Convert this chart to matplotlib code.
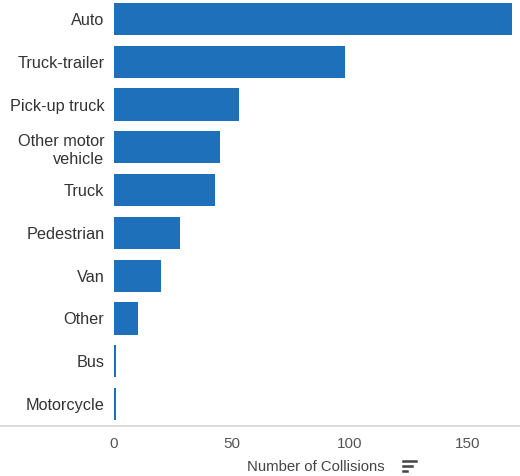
import matplotlib.pyplot as plt
from matplotlib.lines import Line2D

# collisions by type of vehicle/object struck
categories = ['Auto', 'Truck-trailer', 'Pick-up truck', 'Other motor\nvehicle', 'Truck',
              'Pedestrian', 'Van', 'Other', 'Bus', 'Motorcycle']
collisions = [169, 98, 53, 45, 43, 28, 20, 10, 1, 1]
xticks = [0, 50, 100, 150]

plt.rcParams['font.family'] = ['Liberation Sans', 'DejaVu Sans']

fig = plt.figure(figsize=(5.2, 4.76), dpi=100)
ax = fig.add_axes([114/520, 1 - 425.5/476, (517 - 114)/520, 428/476])

ax.barh(range(len(categories)), collisions, height=0.75, color='#1f70bb')
ax.set_ylim(len(categories) - 0.5, -0.5)
ax.set_xlim(0, 171)

ax.set_yticks(range(len(categories)))
ax.set_yticklabels(categories, fontsize=11.7, color='#333333', linespacing=1.3)
ax.set_xticks(xticks)
ax.set_xticklabels([str(t) for t in xticks], fontsize=11, color='#555555')
ax.tick_params(axis='y', length=0, pad=7)
ax.tick_params(axis='x', length=0, pad=8)
for s in ax.spines.values():
    s.set_visible(False)

ax.set_xlabel('Number of Collisions', fontsize=10.7, color='#444444', labelpad=7)

# baseline across the whole width
fig.add_artist(Line2D([0, 1], [1 - 425.5/476] * 2, color='#d4d4d4', lw=1.2))

# small sort icon next to the axis title
for i, w in enumerate([13, 9, 4]):
    y = 1 - (461 + i*5)/476
    fig.add_artist(Line2D([403/520, (403 + w)/520], [y, y], color='#444444', lw=1.8))

fig.savefig('out.png', dpi=100)
